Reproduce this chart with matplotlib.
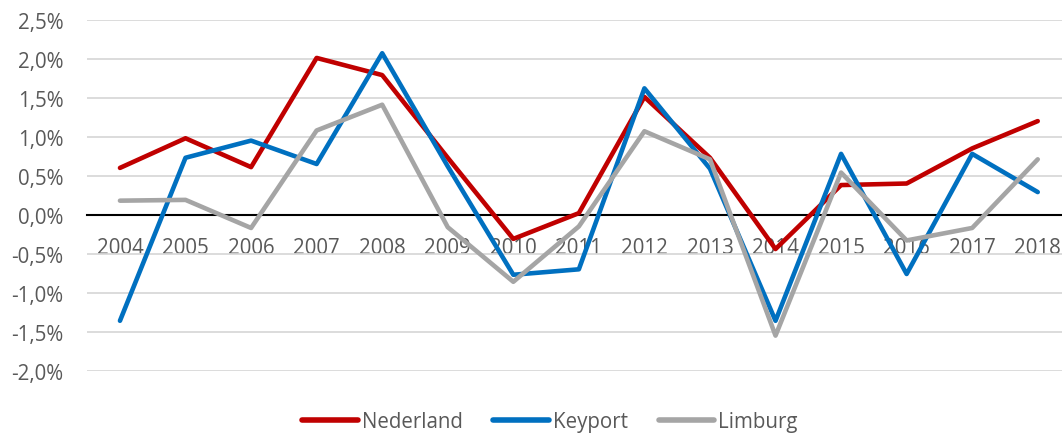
import matplotlib
matplotlib.use("Agg")
import matplotlib.pyplot as plt
from matplotlib.ticker import FuncFormatter, MultipleLocator

years = list(range(2004, 2019))
nederland = [0.60, 0.98, 0.61, 2.01, 1.79, 0.73, -0.31, 0.02, 1.51, 0.73, -0.44, 0.38, 0.40, 0.85, 1.20]
keyport = [-1.36, 0.73, 0.95, 0.65, 2.07, 0.62, -0.77, -0.70, 1.62, 0.59, -1.36, 0.78, -0.76, 0.78, 0.29]
limburg = [0.18, 0.19, -0.17, 1.08, 1.41, -0.16, -0.86, -0.15, 1.07, 0.71, -1.55, 0.54, -0.33, -0.17, 0.71]

series = [("Nederland", nederland, "#C00000"),
          ("Keyport", keyport, "#0070C0"),
          ("Limburg", limburg, "#A5A5A5")]

plt.rcParams['font.family'] = ['Open Sans', 'DejaVu Sans']
text_color = "#595959"

fig = plt.figure(figsize=(10.62, 4.35), dpi=100)
ax = fig.add_axes([0.0821, 0.1455, 0.9179, 0.8069])

for name, vals, col in series:
    ax.plot(years, vals, color=col, lw=3.3, label=name,
            solid_capstyle='round', solid_joinstyle='round', zorder=3)

ax.set_xlim(2003.5, 2018.37)
ax.set_ylim(-2.0, 2.5)
ax.yaxis.set_major_locator(MultipleLocator(0.5))
ax.yaxis.set_major_formatter(FuncFormatter(lambda v, p: f"{v:.1f}%".replace('.', ',')))
ax.set_xticks(years)
ax.set_xticklabels([str(y) for y in years])

ax.grid(axis='y', color='#D9D9D9', lw=1.3)
ax.set_axisbelow(True)
for s in ['top', 'right', 'left']:
    ax.spines[s].set_visible(False)
ax.spines['bottom'].set_position(('data', 0))
ax.spines['bottom'].set_color('black')
ax.spines['bottom'].set_linewidth(1.5)
ax.spines['bottom'].set_zorder(1)

ax.tick_params(axis='x', length=0, pad=16, labelsize=14.8, labelcolor=text_color)
ax.tick_params(axis='y', length=0, pad=17, labelsize=14.8, labelcolor=text_color)

leg = fig.legend(loc='center', bbox_to_anchor=(550 / 1062, 1 - 423 / 435), ncol=3,
                 frameon=False, fontsize=14.8, handlelength=2.7, handletextpad=0.2,
                 columnspacing=1.5, labelcolor=text_color)
for h in leg.get_lines():
    h.set_linewidth(4)
    h.set_solid_capstyle('round')

fig.savefig("out.png", dpi=100)
